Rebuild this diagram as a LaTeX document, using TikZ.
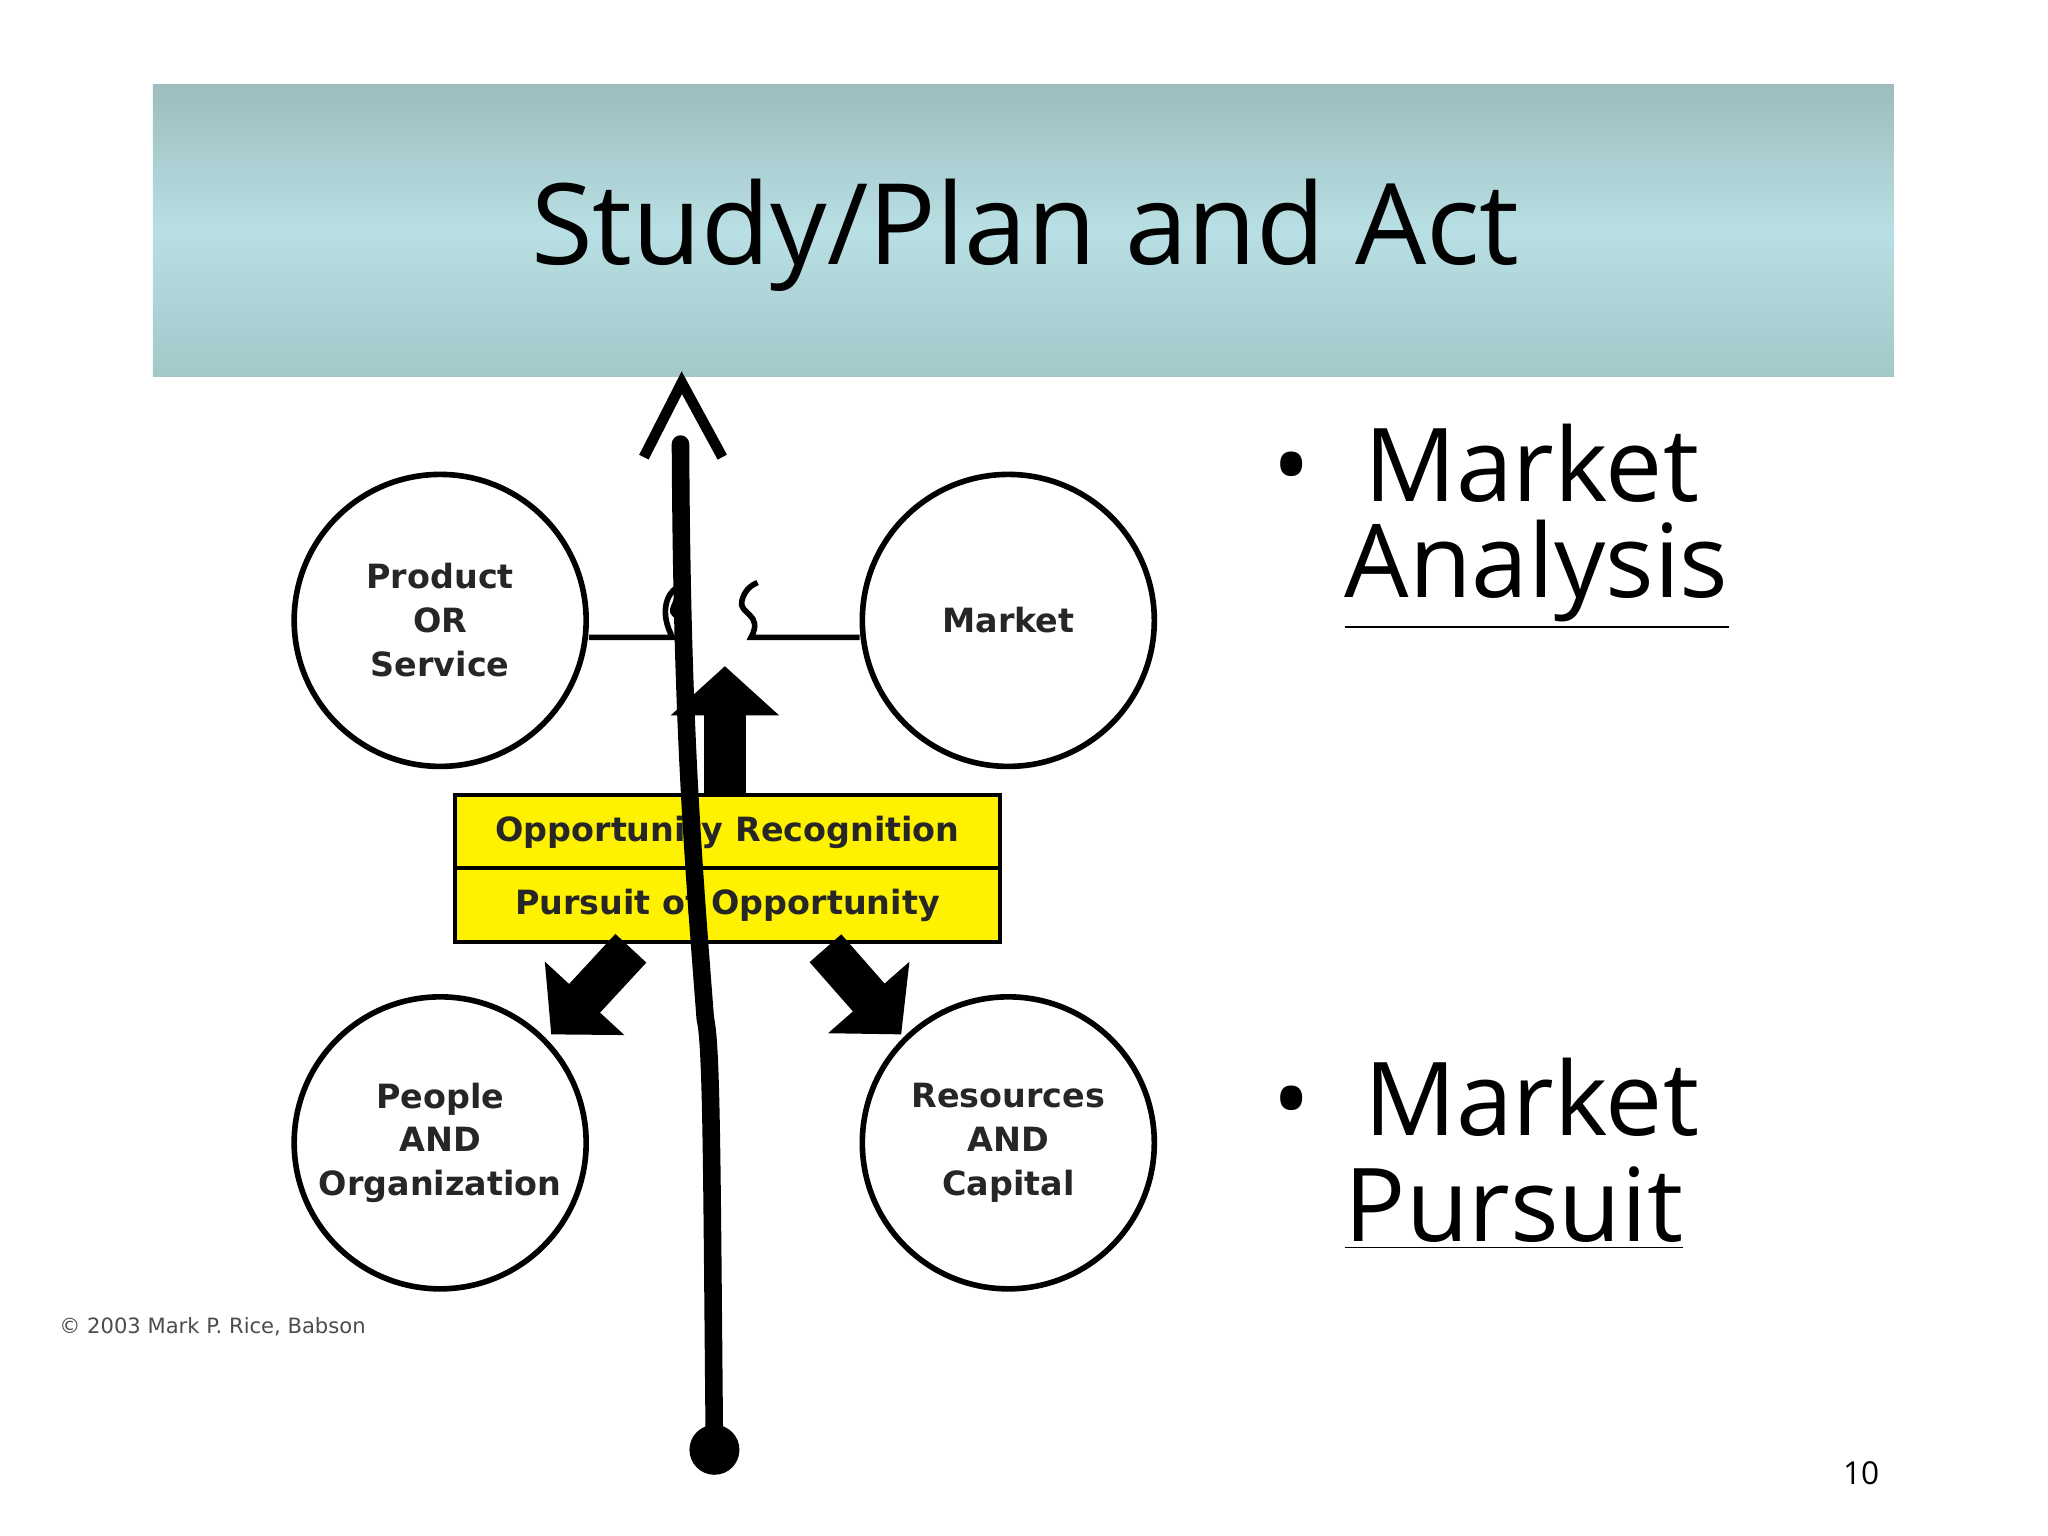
\documentclass[tikz,border=0pt]{standalone}
\usepackage{fontspec}
\setmainfont{Open Sans}
\newfontfamily\vfont{DejaVu Sans}[Scale=1]
\usetikzlibrary{arrows.meta,shapes.arrows}
\definecolor{bantop}{HTML}{9DBDBE}
\definecolor{banmid}{HTML}{B8DFE3}
\definecolor{banbot}{HTML}{A3C8CA}
\begin{document}
\begin{tikzpicture}[x=0.01306cm,y=-0.01306cm,
  circ/.style={draw,line width=1.6pt,circle,inner sep=0pt,minimum size=2.92cm,font=\vfont\bfseries\fontsize{9.5}{12.5}\selectfont,align=center,text=black!85},
  ybox/.style={draw,line width=1.2pt,fill=yellow,inner sep=0pt,minimum width=5.45cm,minimum height=0.745cm,font=\vfont\bfseries\fontsize{9.5}{12}\selectfont,text=black!85},
  blk/.style={line width=12pt,-{Triangle[length=14pt,width=30pt]}},
  bul/.style={anchor=west,font=\fontsize{29}{34}\selectfont}]
\useasboundingbox (0,0) rectangle (1568,1176);
\fill[white] (0,0) rectangle (1568,1176);
\shade[top color=bantop, bottom color=banbot, middle color=banmid] (117,65) rectangle (1450,288);
\node[font=\fontsize{32}{38}\selectfont] (title) at (785,180) {Study/Plan and Act};
\node[circ] (ps) at (337,475) {Product\\OR\\Service};
\node[circ] (mk) at (772,475) {Market};
\node[circ] (po) at (337,875) {People\\AND\\Organization};
\node[circ] (rc) at (772,875) {Resources\\AND\\Capital};
\node[ybox] (or) at (557,637) {Opportunity Recognition};
\node[ybox] (pu) at (557,693) {Pursuit of Opportunity};
\coordinate (l1) at (515,488); \coordinate (l2) at (575,488);
\draw[blk] (555,607) -- (555,510);
\draw[blk] (483,726) -- (422,792);
\draw[blk] (632,726) -- (690,792);
\draw[line width=1.6pt] (ps.east|-l1) -- (l1) .. controls (505,470) and (510,455) .. (518,450) .. controls (522,462) and (508,468) .. (520,472);
\draw[line width=1.6pt] (mk.west|-l2) -- (l2) .. controls (585,470) and (565,470) .. (568,460) .. controls (570,452) and (575,448) .. (580,446);
\node[font=\vfont\fontsize{6}{7}\selectfont,text=black!70,anchor=west] (cp) at (36,1016) {\textcopyright{} 2003 Mark P. Rice, Babson};
\coordinate (top) at (522,293);
\node[circle,fill=black,minimum size=0.5cm,inner sep=0] (dot) at (547,1110) {};
\draw[line width=5pt,line cap=round] (dot.center) .. controls (545,900) and (545,800) .. (540,780) .. controls (530,650) and (522,550) .. (521,340);
\draw[line width=3pt,line join=miter] (493,350) -- (top) -- (553,350);
\node[bul] (b1) at (965,355) {•~~Market};
\node[bul] (b1b) at (1020,440) {\underline{Analysis}};
\node[bul] (b2) at (965,840) {•~~Market};
\node[bul] (b2b) at (1020,925) {\underline{Pursuit}};
\node[font=\fontsize{9}{10}\selectfont] (pg) at (1425,1128) {10};
\end{tikzpicture}
\end{document}
